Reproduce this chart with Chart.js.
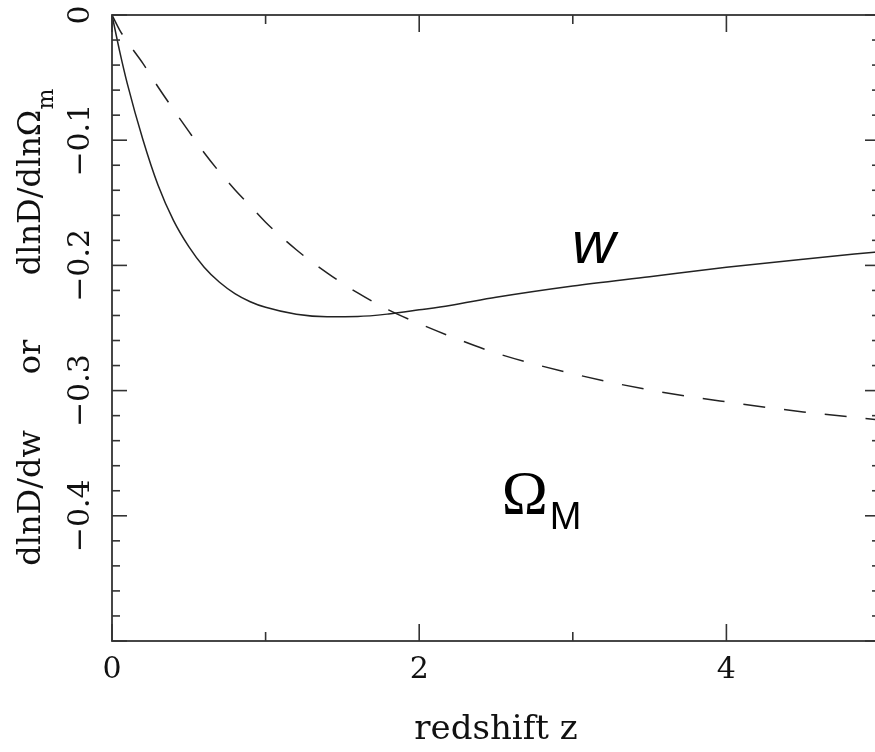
<!DOCTYPE html>
<html><head><meta charset="utf-8">
<script src="https://cdn.jsdelivr.net/npm/chart.js@4.4.0/dist/chart.umd.min.js"></script>
<style>
html,body{margin:0;padding:0;background:#fff;overflow:hidden;width:875px;height:752px}
#wrap{position:absolute;left:0;top:0;width:890px;height:752px}
</style>
</head><body><div id="wrap"><canvas id="c"></canvas></div>
<script>
// ---- data ----
const redshift   = [0, 0.05, 0.1, 0.2, 0.3, 0.4, 0.5, 0.6, 0.7, 0.8, 0.9, 1.0, 1.2, 1.4, 1.6, 1.8, 2.0, 2.2, 2.5, 3.0, 3.5, 4.0, 4.5, 5.0];
const dlnD_dw    = [0, -0.029, -0.055, -0.099, -0.136, -0.164, -0.185, -0.2015, -0.2135, -0.2225, -0.229, -0.2335, -0.239, -0.241, -0.2408, -0.2388, -0.2355, -0.232, -0.2255, -0.2165, -0.209, -0.2015, -0.195, -0.189];
const dlnD_dlnOm = [0, -0.012, -0.0215, -0.0385, -0.0575, -0.0755, -0.093, -0.110, -0.1255, -0.1395, -0.1525, -0.1655, -0.1875, -0.206, -0.222, -0.2355, -0.2465, -0.2565, -0.270, -0.2865, -0.2995, -0.309, -0.317, -0.3235];

const xTickValues = [0, 2, 4];
const xTickLabels = ['0', '2', '4'];
const yTickValues = [0, -0.1, -0.2, -0.3, -0.4];
const yTickLabels = ['0', '\u22120.1', '\u22120.2', '\u22120.3', '\u22120.4'];
const xMinorStep = 1;
const yMinorStep = 0.02;
const xTitle = 'redshift z';
const yTitleParts = ['dlnD/dw', 'or', 'dlnD/dln\u03A9', 'm'];
const curveLabels = ['w', '\u03A9', 'M'];
const curveLabelAnchors = [[2.995, -0.198], [2.537, -0.398], [2.85, -0.4106]]; // data coords

const INK = '#111';
const SERIF = '"DejaVu Serif", serif';

const frameAndText = {
  id: 'frameAndText',
  afterDraw(chart) {
    const {ctx, chartArea: a, scales: {x, y}} = chart;
    ctx.save();
    // frame
    ctx.strokeStyle = '#333';
    ctx.lineWidth = 1.8;
    ctx.strokeRect(a.left, a.top, a.right - a.left, a.bottom - a.top);
    // inward ticks
    ctx.lineWidth = 1.6;
    const line = (x1, y1, x2, y2) => { ctx.beginPath(); ctx.moveTo(x1, y1); ctx.lineTo(x2, y2); ctx.stroke(); };
    const nY = Math.round((y.max - y.min) / yMinorStep);
    for (let i = 0; i <= nY; i++) {
      const v = y.max - i * yMinorStep;
      const py = y.getPixelForValue(v);
      const L = (i % 5 === 0) ? 15 : 8;
      line(a.left, py, a.left + L, py);
      line(a.right, py, a.right - L, py);
    }
    const nX = Math.round((x.max - x.min) / xMinorStep);
    for (let i = 0; i <= nX; i++) {
      const v = x.min + i * xMinorStep;
      const px = x.getPixelForValue(v);
      const L = (i % 2 === 0) ? 17 : 9;
      line(px, a.bottom, px, a.bottom - L);
      line(px, a.top, px, a.top + L);
    }
    // rotated y tick labels
    ctx.fillStyle = INK;
    ctx.font = '30px ' + SERIF;
    ctx.textAlign = 'center';
    ctx.textBaseline = 'alphabetic';
    yTickValues.forEach((v, i) => {
      const py = y.getPixelForValue(v);
      ctx.save();
      ctx.translate(89, py);
      ctx.rotate(-Math.PI / 2);
      ctx.fillText(yTickLabels[i], 0, 0);
      ctx.restore();
    });
    // rotated y title
    ctx.save();
    ctx.translate(40, 0);
    ctx.rotate(-Math.PI / 2);
    ctx.font = '32px ' + SERIF;
    ctx.textAlign = 'center';
    ctx.fillText(yTitleParts[0], -498, 0);
    ctx.fillText(yTitleParts[1], -357, 0);
    const w1 = ctx.measureText(yTitleParts[2]).width;
    ctx.font = '22px ' + SERIF;
    const w2 = ctx.measureText(yTitleParts[3]).width;
    const start = -182 - (w1 + w2) / 2;
    ctx.textAlign = 'left';
    ctx.font = '32px ' + SERIF;
    ctx.fillText(yTitleParts[2], start, 0);
    ctx.font = '22px ' + SERIF;
    ctx.fillText(yTitleParts[3], start + w1, 13);
    ctx.restore();
    // curve labels
    ctx.fillStyle = '#000';
    ctx.textAlign = 'left';
    ctx.textBaseline = 'alphabetic';
    const fonts = ['italic 60px "Liberation Sans", Arial, sans-serif', '62px "Liberation Serif", serif', '38px "Liberation Sans", Arial, sans-serif'];
    curveLabels.forEach((t, i) => {
      ctx.font = fonts[i];
      ctx.fillText(t, x.getPixelForValue(curveLabelAnchors[i][0]), y.getPixelForValue(curveLabelAnchors[i][1]));
    });
    ctx.restore();
  }
};

new Chart(document.getElementById('c'), {
  type: 'scatter',
  data: {
    datasets: [
      {
        label: 'dlnD/dw',
        data: redshift.map((z, i) => ({x: z, y: dlnD_dw[i]})),
        showLine: true, borderColor: '#222', borderWidth: 1.5, pointRadius: 0,
        cubicInterpolationMode: 'monotone', fill: false
      },
      {
        label: 'dlnD/dlnOm',
        data: redshift.map((z, i) => ({x: z, y: dlnD_dlnOm[i]})),
        showLine: true, borderColor: '#222', borderWidth: 1.5, pointRadius: 0,
        borderDash: [22, 19], cubicInterpolationMode: 'monotone', fill: false
      }
    ]
  },
  options: {
    responsive: true,
    maintainAspectRatio: false,
    animation: false,
    devicePixelRatio: 1,
    layout: {padding: {top: 15, right: 10, left: 0, bottom: 0}},
    plugins: {legend: {display: false}, tooltip: {enabled: false}},
    scales: {
      x: {
        type: 'linear', min: 0, max: 5,
        grid: {display: false, drawTicks: false},
        border: {display: false},
        afterBuildTicks: s => { s.ticks = xTickValues.map(v => ({value: v})); },
        afterFit: s => { s.height = 111; },
        ticks: {
          color: INK, padding: 11,
          font: {family: SERIF, size: 30},
          callback: (v) => { const i = xTickValues.indexOf(v); return i >= 0 ? xTickLabels[i] : ''; },
          maxRotation: 0
        },
        title: {display: true, text: xTitle, color: INK, font: {family: SERIF, size: 34, lineHeight: 1}, padding: {top: 0, bottom: 5}}
      },
      y: {
        type: 'linear', min: -0.5, max: 0,
        grid: {display: false, drawTicks: false},
        border: {display: false},
        afterBuildTicks: s => { s.ticks = yTickValues.map(v => ({value: v})); },
        afterFit: s => { s.width = 112; },
        ticks: {display: false}
      }
    }
  },
  plugins: [frameAndText]
});
</script>
</body></html>
